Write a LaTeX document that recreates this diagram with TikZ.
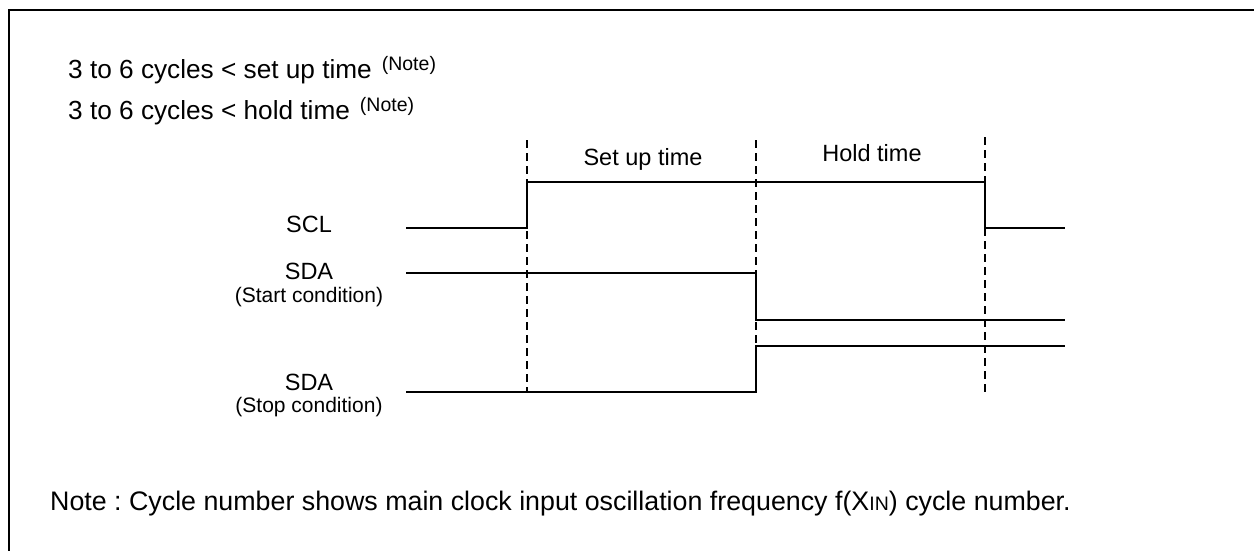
\documentclass[tikz,border=0pt]{standalone}
\usepackage{fontspec}
\setmainfont{Liberation Sans}
\frenchspacing
\begin{document}
\begin{tikzpicture}[x=1pt,y=-1pt,
  sig/.style={line width=2.2pt},
  guide/.style={line width=1.4pt,dash pattern=on 8pt off 5pt},
  frame/.style={line width=2.5pt},
  big/.style={font=\fontsize{26.2}{30}\selectfont,inner sep=0pt},
  mid/.style={font=\fontsize{23.5}{28}\selectfont,inner sep=0pt},
  small/.style={font=\fontsize{21}{25}\selectfont,inner sep=0pt},
  notefont/.style={font=\fontsize{26.8}{30}\selectfont,inner sep=0pt}]
\useasboundingbox (0,0) rectangle (1254,551);
\fill[white] (0,0) rectangle (1254,551);
\draw[frame] (9,560) -- (9,10) -- (1260,10);
% text
\node[big,anchor=base west] (l1) at (68,79) {3 to 6 cycles < set up time\hspace{10pt}{\fontsize{19.5}{20}\selectfont\raisebox{9pt}{(Note)}}};
\node[big,anchor=base west] (l2) at (68,120) {3 to 6 cycles < hold time\hspace{10pt}{\fontsize{19.5}{20}\selectfont\raisebox{9pt}{(Note)}}};
\node[mid,anchor=base] (su) at (643,165) {Set up time};
\node[mid,anchor=base] (ht) at (872,161) {Hold time};
\node[mid,anchor=base] (scl) at (309,232) {SCL};
\node[mid,anchor=base] (sda1) at (309,279) {SDA};
\node[small,anchor=base] (c1) at (309,302) {(Start condition)};
\node[mid,anchor=base] (sda2) at (309,390) {SDA};
\node[small,anchor=base] (c2) at (309,412) {(Stop condition)};
\node[notefont,anchor=base west] (note) at (50,510) {Note : Cycle number shows main clock input oscillation frequency f(X{\fontsize{19.5}{20}\selectfont IN}) cycle number.};
% guides
\coordinate (g1t) at (527,140); \coordinate (g1b) at (527,392);
\coordinate (g2t) at (756,140); \coordinate (g2b) at (756,392);
\coordinate (g3t) at (985,137); \coordinate (g3b) at (985,392);
\draw[guide] (g1t) -- (g1b);
\draw[guide] (g2t) -- (g2b);
\draw[guide] (g3t) -- (g3b);
% SCL
\coordinate (s0) at (406,228);
\coordinate (s1) at (1065,228);
\draw[sig] (s0) -- (527,228) -- (527,182) -- (985,182) -- (985,228) -- (s1);
% SDA start
\coordinate (a0) at (406,273);
\coordinate (a1) at (1065,320);
\draw[sig] (a0) -- (756,273) -- (756,320) -- (a1);
% SDA stop
\coordinate (b0) at (406,392);
\coordinate (b1) at (1065,346);
\draw[sig] (b0) -- (756,392) -- (756,346) -- (b1);
\end{tikzpicture}
\end{document}
